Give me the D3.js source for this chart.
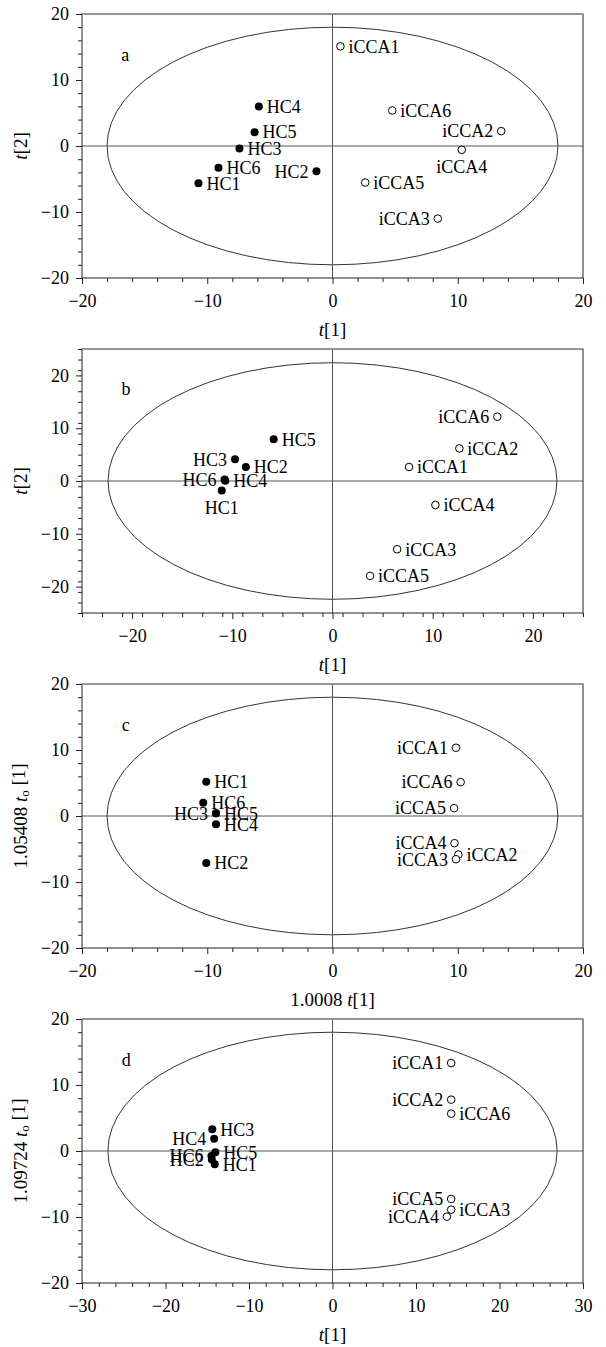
<!DOCTYPE html>
<html>
<head>
<meta charset="utf-8">
<script src="https://cdn.jsdelivr.net/npm/d3@7"></script>
<style>
  body { margin: 0; background: #fff; }
  text { font-family: "Liberation Serif", "Times New Roman", serif; fill: #000; }
</style>
</head>
<body>
<svg id="chart" width="606" height="1347"></svg>
<script>
const hcNames = ["HC1", "HC2", "HC3", "HC4", "HC5", "HC6"];
const iccaNames = ["iCCA1", "iCCA2", "iCCA3", "iCCA4", "iCCA5", "iCCA6"];

// panel a
const aHcX = [-10.7, -1.28, -7.43, -5.88, -6.22, -9.1];
const aHcY = [-5.64, -3.82, -0.38, 5.99, 2.1, -3.3];
const aIccaX = [0.63, 13.47, 8.41, 10.32, 2.61, 4.77];
const aIccaY = [15.1, 2.25, -11.0, -0.58, -5.54, 5.38];

// panel b
const bHcX = [-11.05, -8.65, -9.73, -10.7, -5.87, -10.77];
const bHcY = [-1.8, 2.65, 4.1, 0.05, 7.89, 0.3];
const bIccaX = [7.64, 12.66, 6.45, 10.27, 3.75, 16.45];
const bIccaY = [2.65, 6.18, -12.93, -4.54, -17.98, 12.18];

// panel c
const cHcX = [-10.08, -10.08, -9.3, -9.3, -9.3, -10.32];
const cHcY = [5.18, -7.11, 0.4, -1.25, 0.4, 2.0];
const cIccaX = [9.86, 10.05, 9.86, 9.74, 9.71, 10.23];
const cIccaY = [10.34, -5.84, -6.55, -4.12, 1.19, 5.13];

// panel d
const dHcX = [-14.1, -14.45, -14.4, -14.17, -14.03, -14.5];
const dHcY = [-2.0, -1.3, 3.3, 1.85, -0.2, -0.75];
const dIccaX = [14.21, 14.21, 14.21, 13.7, 14.21, 14.21];
const dIccaY = [13.33, 7.78, -8.89, -9.95, -7.27, 5.66];

// tick labels
const ticks20 = [-20, -10, 0, 10, 20];
const ticks30 = [-30, -20, -10, 0, 10, 20, 30];

// which side of the point each label sits (HC1..6, iCCA1..6)
const aHcSide = ["r", "l", "r", "r", "r", "r"];
const aIccaSide = ["r", "l", "l", "b", "r", "r"];
const bHcSide = ["b", "r", "l", "r", "r", "l"];
const bIccaSide = ["r", "r", "r", "r", "r", "l"];
const cHcSide = ["r", "r", "l", "r", "r", "r"];
const cIccaSide = ["l", "r", "l", "l", "l", "l"];
const dHcSide = ["r", "l", "r", "l", "r", "l"];
const dIccaSide = ["l", "l", "r", "l", "l", "r"];

const panels = [
  { letter: "a", top: 14, xd: [-20, 20], yd: [-20, 20], xt: ticks20, yt: ticks20, ell: [18, 18], lp: [-16.55, 13.8],
    hx: aHcX, hy: aHcY, ix: aIccaX, iy: aIccaY, hs: aHcSide, is: aIccaSide, ylab: "t2", xlab: "t1" },
  { letter: "b", top: 349, xd: [-25, 25], yd: [-25, 25], xt: ticks20, yt: ticks20, ell: [22.4, 22.4], lp: [-20.6, 17.4],
    hx: bHcX, hy: bHcY, ix: bIccaX, iy: bIccaY, hs: bHcSide, is: bIccaSide, ylab: "t2", xlab: "t1" },
  { letter: "c", top: 684, xd: [-20, 20], yd: [-20, 20], xt: ticks20, yt: ticks20, ell: [18, 18], lp: [-16.5, 13.8],
    hx: cHcX, hy: cHcY, ix: cIccaX, iy: cIccaY, hs: cHcSide, is: cIccaSide, ylab: "1.05408", xlab: "1.0008" },
  { letter: "d", top: 1019, xd: [-30, 30], yd: [-20, 20], xt: ticks30, yt: ticks20, ell: [26.9, 18], lp: [-24.7, 13.8],
    hx: dHcX, hy: dHcY, ix: dIccaX, iy: dIccaY, hs: dHcSide, is: dIccaSide, ylab: "1.09724", xlab: "t1" }
];

const left = 82, right = 583, ph = 264;
const svg = d3.select("#chart");

panels.forEach(function(p) {
  const x = d3.scaleLinear().domain(p.xd).range([left, right]);
  const y = d3.scaleLinear().domain(p.yd).range([p.top + ph, p.top]);
  const g = svg.append("g");

  // ellipse
  g.append("ellipse")
    .attr("cx", x(0)).attr("cy", y(0))
    .attr("rx", x(p.ell[0]) - x(0)).attr("ry", y(0) - y(p.ell[1]))
    .attr("fill", "none").attr("stroke", "#333").attr("stroke-width", 1);

  // zero lines
  g.append("line").attr("x1", left).attr("x2", right).attr("y1", y(0)).attr("y2", y(0))
    .attr("stroke", "#555").attr("stroke-width", 1);
  g.append("line").attr("x1", x(0)).attr("x2", x(0)).attr("y1", p.top).attr("y2", p.top + ph)
    .attr("stroke", "#555").attr("stroke-width", 1);

  // points
  const pts = [];
  hcNames.forEach((n, i) => pts.push({ name: n, x: p.hx[i], y: p.hy[i], hc: true, side: p.hs[i] }));
  iccaNames.forEach((n, i) => pts.push({ name: n, x: p.ix[i], y: p.iy[i], hc: false, side: p.is[i] }));

  g.selectAll("circle.pt").data(pts).enter().append("circle")
    .attr("class", "pt")
    .attr("cx", d => x(d.x)).attr("cy", d => y(d.y))
    .attr("r", d => d.hc ? 4 : 3.8)
    .attr("fill", d => d.hc ? "#000" : "#fff")
    .attr("stroke", "#000").attr("stroke-width", d => d.hc ? 0 : 1);

  g.selectAll("text.lbl").data(pts).enter().append("text")
    .attr("class", "lbl")
    .attr("font-size", 18)
    .attr("x", d => d.side === "r" ? x(d.x) + 8 : d.side === "l" ? x(d.x) - 8 : x(d.x))
    .attr("y", d => d.side === "b" ? y(d.y) + 23 : y(d.y))
    .attr("dy", d => d.side === "b" ? 0 : "0.35em")
    .attr("text-anchor", d => d.side === "r" ? "start" : d.side === "l" ? "end" : "middle")
    .text(d => d.name);

  // panel letter
  g.append("text").attr("x", x(p.lp[0])).attr("y", y(p.lp[1])).attr("dy", "0.35em")
    .attr("text-anchor", "middle").attr("font-size", 18).text(p.letter);

  // axes
  const step = 2;
  const minorX = d3.range(p.xd[0], p.xd[1] + 0.001, step).filter(v => v % 10 !== 0);
  const minorY = d3.range(p.yd[0], p.yd[1] + 0.001, step).filter(v => v % 10 !== 0);

  const ax = g.append("g").attr("transform", "translate(0," + (p.top + ph) + ")");
  ax.call(d3.axisBottom(x).tickValues(minorX).tickSize(4).tickFormat(""));
  ax.append("g").call(d3.axisBottom(x).tickValues(p.xt).tickSize(6).tickPadding(10));

  const ay = g.append("g").attr("transform", "translate(" + left + ",0)");
  ay.call(d3.axisLeft(y).tickValues(minorY).tickSize(4).tickFormat(""));
  ay.append("g").call(d3.axisLeft(y).tickValues(p.yt).tickSize(6).tickPadding(7));

  g.selectAll(".domain").remove();
  g.selectAll(".tick line").attr("stroke", "#222");
  g.selectAll(".tick text").attr("font-size", 18).attr("font-family", "Liberation Serif").attr("fill", "#000");

  // frame
  g.append("rect").attr("x", left).attr("y", p.top).attr("width", right - left).attr("height", ph)
    .attr("fill", "none").attr("stroke", "#222").attr("stroke-width", 1);
  g.append("line").attr("x1", left).attr("x2", right).attr("y1", p.top).attr("y2", p.top)
    .attr("stroke", "#999").attr("stroke-width", 1.3);

  // x title
  const xt = g.append("text").attr("x", (left + right) / 2).attr("y", p.top + ph + 58)
    .attr("text-anchor", "middle").attr("font-size", 19);
  if (p.xlab !== "t1") xt.append("tspan").text(p.xlab + " ");
  xt.append("tspan").attr("font-style", "italic").text("t");
  xt.append("tspan").text("[1]");

  // y title
  const yt = g.append("text")
    .attr("transform", "translate(20," + (p.top + ph / 2) + ") rotate(-90)")
    .attr("text-anchor", "middle").attr("dominant-baseline", "central").attr("font-size", 19);
  if (p.ylab === "t2") {
    yt.append("tspan").attr("font-style", "italic").text("t");
    yt.append("tspan").text("[2]");
  } else {
    yt.append("tspan").text(p.ylab + " ");
    yt.append("tspan").attr("font-style", "italic").text("t");
    yt.append("tspan").attr("font-size", 13).attr("dy", "0.3em").text("o");
    yt.append("tspan").attr("dy", "-0.3em").text(" [1]");
  }
});
</script>
</body>
</html>
